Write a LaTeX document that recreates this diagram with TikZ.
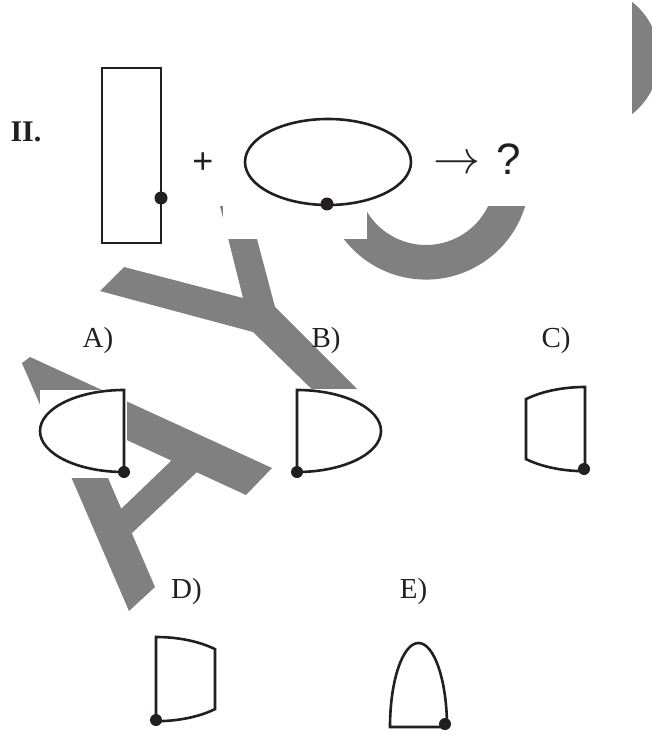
\documentclass[tikz,border=0pt]{standalone}
\usepackage{fontspec}
\setmainfont{Liberation Serif}
\newfontfamily\arialfont{Liberation Sans}
\definecolor{inkblack}{RGB}{35,31,32}
\definecolor{markgray}{RGB}{128,128,128}

\begin{document}
\begin{tikzpicture}
        [x=1pt,y=-1pt,
        figline/.style={draw=inkblack,line width=2.6pt},
        blot/.style={fill=inkblack},
        wmark/.style={fill=markgray},
        blank/.style={fill=white},
        lbl/.style={inner sep=0,anchor=base,text=inkblack,font=\fontsize{29}{32}\selectfont},
        sym/.style={inner sep=0,text=inkblack}]
        \useasboundingbox (0,0) rectangle (652,735);
        % watermark letters
        \fill[wmark] (22,363) -- (30,357) -- (272,468) -- (246,495) -- (40,400) -- cycle;
        \fill[wmark] (22,363) -- (83,420) -- (155,587) -- (129,611) -- cycle;
        \fill[wmark] (172,460) -- (197,472) -- (132,533) -- (120,510) -- cycle;
        \fill[wmark] (124,267) -- (243,298) -- (216,190) -- (244,190) -- (275,307)
            -- (370,402) -- (325,402) -- (253,332) -- (100,291) -- cycle;
        \fill[wmark] (426,176) ++(10:103.6) arc[start angle=10,end angle=200,radius=103.6]
            -- ++(200:-34.6) arc[start angle=200,end angle=10,radius=69] -- cycle;
        \begin{scope}
            \clip (632,0) rectangle (652,735);
            \fill[wmark] (588,58) circle[radius=71.3];
        \end{scope}
        \fill[blank] (170,0) rectangle (632,206);
        \fill[blank] (223,206) rectangle (367,239);
        \fill[blank] (40,390) rectangle (127,478);
        \fill[blank] (285,389) rectangle (392,480);
        % question
        \node[sym,anchor=base,font=\fontsize{30}{34}\selectfont\bfseries] (num) at (26,142) {II.};
        \draw[figline] (102,68) rectangle (161,243);
        \fill[blot] (161,198) circle[radius=6.5];
        \node[sym,font=\arialfont\fontsize{36}{40}\selectfont] (plus) at (203,163.5) {+};
        \draw[figline] (328,162) ellipse[x radius=83,y radius=43];
        \fill[blot] (327,204) circle[radius=6.5];
        \node[sym,scale=4.7] (arrow) at (457,165) {$\rightarrow$};
        \node[sym,anchor=base,font=\arialfont\fontsize{44}{48}\selectfont] (query) at (508.5,175) {?};
        % options
        \node[lbl] (optA) at (98,347) {A)};
        \node[lbl] (optB) at (326,347) {B)};
        \node[lbl] (optC) at (556,347) {C)};
        \node[lbl] (optD) at (186.5,598) {D)};
        \node[lbl] (optE) at (413.5,598) {E)};
        \draw[figline] (124,390) arc[start angle=270,end angle=90,x radius=84,y radius=41] -- cycle;
        \fill[blot] (124,472) circle[radius=6];
        \draw[figline] (297,390) arc[start angle=-90,end angle=90,x radius=84,y radius=41] -- cycle;
        \fill[blot] (297,472) circle[radius=6];
        \draw[figline] (585,387) arc[start angle=270,end angle=225.4,x radius=84,y radius=42]
            -- ++(0,60) arc[start angle=134.6,end angle=90,x radius=84,y radius=42] -- cycle;
        \fill[blot] (584,469) circle[radius=6];
        \draw[figline] (156,637) arc[start angle=270,end angle=314.6,x radius=84,y radius=42]
            -- ++(0,60) arc[start angle=45.4,end angle=90,x radius=84,y radius=42] -- cycle;
        \fill[blot] (156,720) circle[radius=6];
        \draw[figline] (447,727) arc[start angle=360,end angle=180,x radius=28.5,y radius=84] -- cycle;
        \fill[blot] (445,724) circle[radius=6];
\end{tikzpicture}
\end{document}
